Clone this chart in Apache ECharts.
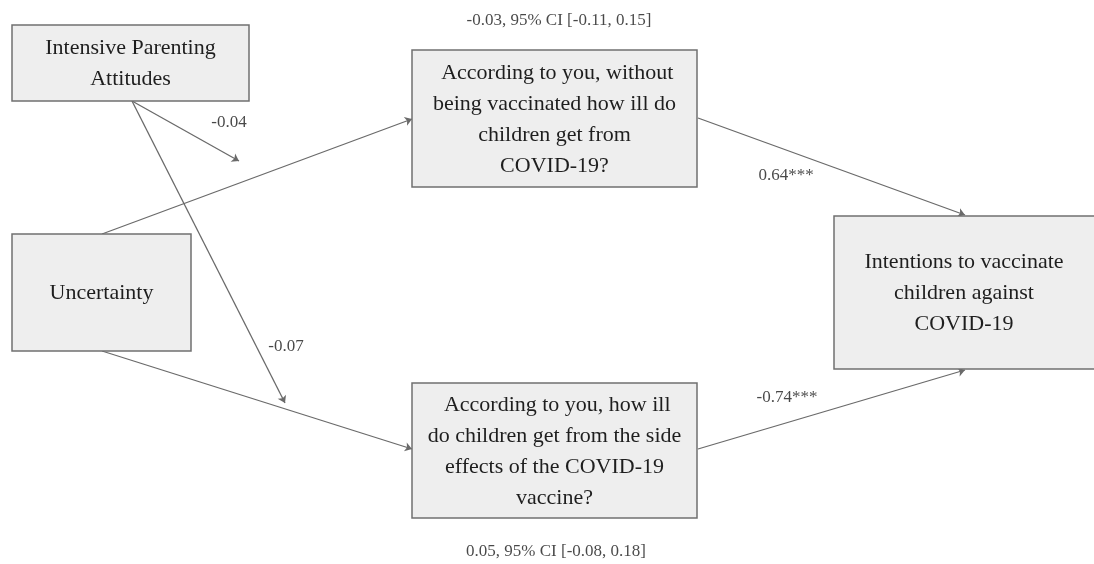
<!DOCTYPE html>
<html>
<head>
<meta charset="utf-8">
<script src="https://cdn.jsdelivr.net/npm/echarts@6/dist/echarts.min.js"></script>
<style>
    html, body { margin: 0; padding: 0; background: #fff; }
    #chart { width: 1094px; height: 564px; }
</style>
</head>
<body>
<div id="chart"></div>
<script>
// boxes of the path model (diagram units = page pixels, y downwards)
const nodeText = [
    ['Intensive Parenting', 'Attitudes'],
    ['Uncertainty'],
    ['\u00a0According to you, without', 'being vaccinated how ill do', 'children get from', 'COVID-19?'],
    ['\u00a0According to you, how ill', 'do children get from the side', 'effects of the COVID-19', 'vaccine?'],
    ['Intentions to vaccinate', 'children against', 'COVID-19']
]
const nodeBox = [
    [12, 25, 249, 101],
    [12, 234, 191, 351],
    [412, 50, 697, 187],
    [412, 383, 697, 518],
    [834, 216, 1096, 369]
]

// paths (start -> arrow tip)
const pathFrom = [[132, 101], [132, 101], [102, 234], [102, 351], [698, 118], [698, 449]]
const pathTo = [[239, 161], [285, 403], [412, 119], [412, 449], [965, 215], [965, 370]]

// coefficients
const coefText = ['-0.04', '-0.07', '-0.03, 95% CI [-0.11, 0.15]', '0.05, 95% CI [-0.08, 0.18]', '0.64***', '-0.74***']
const coefPos = [[229, 123], [286, 347], [559, 21], [556, 552], [786, 176], [787, 398]]

let chart = echarts.init(document.getElementById('chart'))

let boxData = nodeBox.map((b, i) => ({ value: b, lines: nodeText[i] }))

let option = {
    backgroundColor: '#ffffff',
    animation: false,
    grid: { left: 0, right: 0, top: 0, bottom: 0 },
    xAxis: { type: 'value', min: 0, max: 1094, show: false },
    yAxis: { type: 'value', min: 0, max: 564, inverse: true, show: false },
    series: [
        {
            type: 'lines',
            coordinateSystem: 'cartesian2d',
            symbol: ['none', 'arrow'],
            symbolSize: 7,
            lineStyle: { color: '#6a6a6a', width: 1.3, opacity: 1 },
            data: pathFrom.map((p, i) => ({ coords: [p, pathTo[i]] })),
            z: 1
        },
        {
            type: 'custom',
            coordinateSystem: 'cartesian2d',
            clip: false,
            data: boxData,
            encode: { x: [0, 2], y: [1, 3] },
            renderItem: function (params, api) {
                let p0 = api.coord([api.value(0), api.value(1)])
                let p1 = api.coord([api.value(2), api.value(3)])
                let lines = boxData[params.dataIndex].lines
                let right = Math.min(p1[0], 1094)
                return {
                    type: 'group',
                    children: [
                        {
                            type: 'rect',
                            shape: { x: p0[0], y: p0[1], width: p1[0] - p0[0], height: p1[1] - p0[1] },
                            style: { fill: '#eeeeee', stroke: '#707070', lineWidth: 1.5 }
                        },
                        {
                            type: 'text',
                            style: {
                                text: lines.join('\n'),
                                x: (p0[0] + right) / 2,
                                y: (p0[1] + p1[1]) / 2 + 1,
                                align: 'center',
                                verticalAlign: 'middle',
                                font: '22px "Liberation Serif"',
                                lineHeight: 31,
                                fill: '#1e1e1e'
                            }
                        }
                    ]
                }
            },
            z: 2
        },
        {
            type: 'scatter',
            symbolSize: 0,
            data: coefPos.map((p, i) => ({ value: p, name: coefText[i] })),
            label: {
                show: true,
                position: 'inside',
                formatter: '{b}',
                fontFamily: 'Liberation Serif',
                fontSize: 17,
                color: '#1a1a1a'
            },
            z: 3
        }
    ]
}

option && chart.setOption(option)
</script>
</body>
</html>
